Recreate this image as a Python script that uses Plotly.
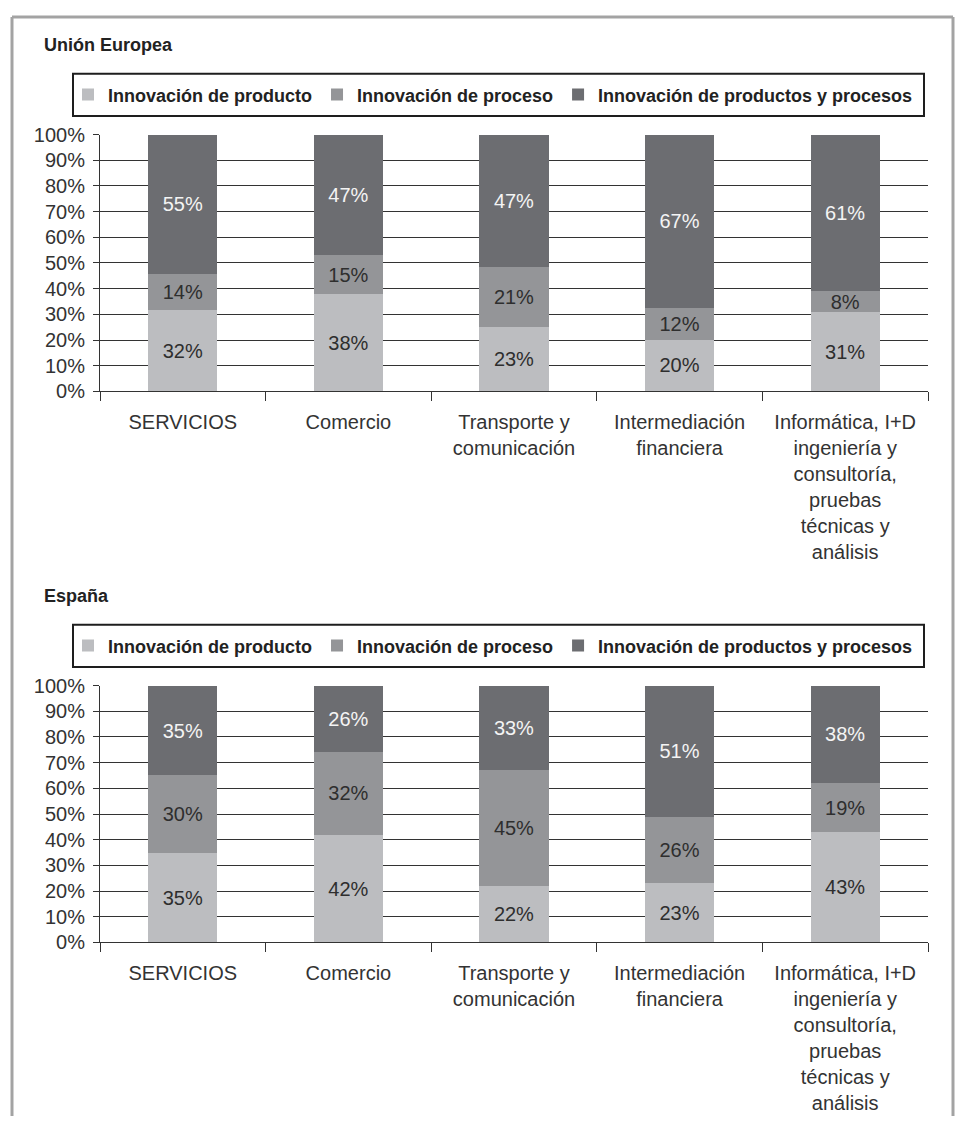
import plotly.graph_objects as go

# Sector categories (multi-line labels)
categories = [
    "SERVICIOS",
    "Comercio",
    "Transporte y<br>comunicación",
    "Intermediación<br>financiera",
    "Informática, I+D<br>ingeniería y<br>consultoría,<br>pruebas<br>técnicas y<br>análisis",
]

series_names = [
    "Innovación de producto",
    "Innovación de proceso",
    "Innovación de productos y procesos",
]

# Unión Europea (%)
ue_producto = [32, 38, 23, 20, 31]
ue_proceso = [14, 15, 21, 12, 8]
ue_ambos = [55, 47, 47, 67, 61]

# España (%)
es_producto = [35, 42, 22, 23, 43]
es_proceso = [30, 32, 45, 26, 19]
es_ambos = [35, 26, 33, 51, 38]

panel_titles = ["Unión Europea", "España"]

# y-axis ticks
y_ticks = list(range(0, 101, 10))
y_tick_labels = [f"{v}%" for v in y_ticks]

W, H = 955, 1127
colors = ["#bcbdc0", "#949598", "#6c6d71"]
text_colors = ["#2e2e2e", "#2e2e2e", "#f4f4f4"]
FONT = "Liberation Sans, Arial, Helvetica, sans-serif"
INK = "#333333"


def px_x(v):
    return v / W


def px_y(v):
    return 1 - v / H


fig = go.Figure()

panels = [
    (ue_producto, ue_proceso, ue_ambos),
    (es_producto, es_proceso, es_ambos),
]

for p, series in enumerate(panels):
    suffix = "" if p == 0 else "2"
    for i, vals in enumerate(series):
        fig.add_trace(
            go.Bar(
                x=categories,
                y=vals,
                name=series_names[i],
                marker=dict(color=colors[i], line=dict(width=0)),
                text=[f"{v}%" for v in vals],
                texttemplate="%{text}",
                textposition="inside",
                insidetextanchor="middle",
                textangle=0,
                constraintext="none",
                textfont=dict(family=FONT, size=20, color=text_colors[i]),
                xaxis="x" + suffix,
                yaxis="y" + suffix,
                legend="legend" + suffix,
                hoverinfo="skip",
            )
        )

# panel geometry in pixels: plot top/bottom, legend box top/bottom, title y
offset = 562
geo = [
    dict(top=126, bottom=388, lt=64, lb=107, ty=35),
]
geo.append({k: v + offset for k, v in geo[0].items()})

xdom = [px_x(100), px_x(928)]

axis_common_x = dict(
    domain=xdom,
    showline=True,
    linecolor=INK,
    linewidth=1,
    ticks="outside",
    tickson="boundaries",
    ticklen=9,
    tickcolor=INK,
    tickwidth=1,
    showgrid=False,
    tickfont=dict(family=FONT, size=20, color=INK),
    ticklabelstandoff=13,
    fixedrange=True,
)
axis_common_y = dict(
    range=[0, 100],
    tickmode="array",
    tickvals=y_ticks,
    ticktext=y_tick_labels,
    showline=True,
    linecolor=INK,
    linewidth=1,
    ticks="outside",
    ticklen=6,
    tickcolor=INK,
    showgrid=True,
    gridcolor=INK,
    gridwidth=1,
    zeroline=False,
    tickfont=dict(family=FONT, size=20, color=INK),
    ticklabelstandoff=4,
    fixedrange=True,
)

layout = dict(
    width=W,
    height=H,
    margin=dict(l=0, r=0, t=0, b=0),
    paper_bgcolor="white",
    plot_bgcolor="white",
    barmode="stack",
    barnorm="percent",
    bargap=0.583,
    font=dict(family=FONT, color=INK),
)

shapes = []
annotations = []
for p, g in enumerate(geo):
    suffix = "" if p == 0 else "2"
    ax_x = dict(axis_common_x, anchor="y" + suffix)
    ax_y = dict(
        axis_common_y,
        anchor="x" + suffix,
        domain=[px_y(g["bottom"]), px_y(g["top"])],
    )
    layout["xaxis" + suffix] = ax_x
    layout["yaxis" + suffix] = ax_y
    layout["legend" + suffix] = dict(
        orientation="h",
        x=px_x(68),
        xanchor="left",
        y=px_y((g["lt"] + g["lb"]) / 2),
        yanchor="middle",
        bgcolor="rgba(0,0,0,0)",
        borderwidth=0,
        font=dict(family=FONT, size=18, color="#222222", weight="bold"),
        itemclick=False,
        itemdoubleclick=False,
        traceorder="normal",
    )
    shapes.append(
        dict(
            type="rect",
            xref="paper",
            yref="paper",
            x0=px_x(73),
            x1=px_x(924),
            y0=px_y(g["lb"]),
            y1=px_y(g["lt"]),
            line=dict(color="#1e1e1e", width=2),
            fillcolor="rgba(0,0,0,0)",
        )
    )
    annotations.append(
        dict(
            text="<b>" + panel_titles[p] + "</b>",
            xref="paper",
            yref="paper",
            x=px_x(42),
            y=px_y(g["ty"]),
            xanchor="left",
            yanchor="middle",
            showarrow=False,
            font=dict(family=FONT, size=18, color="#222222"),
        )
    )

# outer frame, open at the bottom
frame = dict(color="#a3a3a3", width=3)
shapes.append(dict(type="line", xref="paper", yref="paper",
                   x0=px_x(12), x1=px_x(12), y0=0, y1=px_y(6), line=frame))
shapes.append(dict(type="line", xref="paper", yref="paper",
                   x0=px_x(12), x1=px_x(953), y0=px_y(6), y1=px_y(6), line=frame))
shapes.append(dict(type="line", xref="paper", yref="paper",
                   x0=px_x(953), x1=px_x(953), y0=0, y1=px_y(6), line=frame))

layout["shapes"] = shapes
layout["annotations"] = annotations
fig.update_layout(**layout)

fig.write_html("out.html")
